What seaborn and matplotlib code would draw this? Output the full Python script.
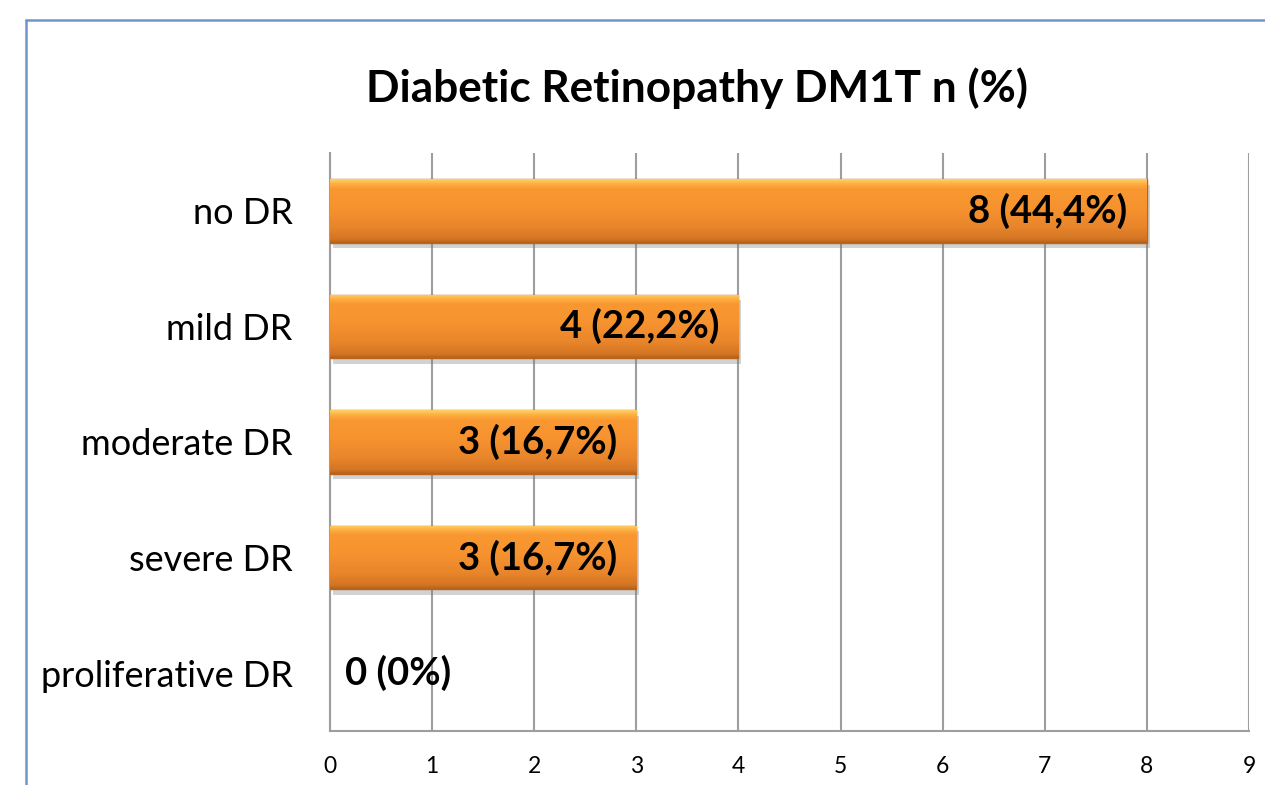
import numpy as np
import pandas as pd
import matplotlib
matplotlib.use("Agg")
import matplotlib.pyplot as plt
import matplotlib.patheffects as pe
from matplotlib.colors import LinearSegmentedColormap
from matplotlib.lines import Line2D
import seaborn as sns

categories = ["no DR", "mild DR", "moderate DR", "severe DR", "proliferative DR"]
counts = [8, 4, 3, 3, 0]
percents = ["44,4", "22,2", "16,7", "16,7", "0"]
title = "Diabetic Retinopathy DM1T n (%)"

df = pd.DataFrame({"category": categories, "n": counts})

sns.set_theme(style="white")
plt.rcParams["font.family"] = ["Lato", "DejaVu Sans"]

fig = plt.figure(figsize=(12.65, 7.85), dpi=100)
ax = fig.add_axes([0.2609, 0.0688, 0.7265, 0.7363])

sns.barplot(data=df, x="n", y="category", orient="h", color="#F7962F",
            width=0.55, edgecolor="#B8651E", linewidth=1.0, ax=ax, zorder=3)

# bevel-ish gradient inside each bar: dark bottom edge, flat body, light top edge
grad = LinearSegmentedColormap.from_list(
    "bev", [(0.0, "#B5621C"), (0.06, "#D37524"), (0.25, "#E9852B"),
            (0.55, "#F6932F"), (0.85, "#F99831"), (0.93, "#FDB043"), (1.0, "#FFD262")])
g = np.linspace(0, 1, 128).reshape(-1, 1)
for p in ax.patches:
    if p.get_width() <= 0:
        p.set_linewidth(0)
        p.set_visible(False)
        continue
    x0, y0 = p.get_x(), p.get_y()
    w, h = p.get_width(), p.get_height()
    im = ax.imshow(g, cmap=grad, aspect="auto", origin="upper",
                   extent=[x0, x0 + w, y0, y0 + h], zorder=3.5)
    im.set_clip_path(p)
    p.set_path_effects([pe.SimplePatchShadow(offset=(2, -4), shadow_rgbFace="#808080", alpha=0.35),
                        pe.Normal()])

ax.set_xlim(0, 9)
ax.set_ylim(len(categories) - 0.5, -0.5)
ax.set_xticks(range(0, 10))
ax.grid(axis="x", color="#9E9E9E", linewidth=1.5, zorder=0)
ax.grid(axis="y", visible=False)
ax.spines["top"].set_visible(False)
ax.spines["right"].set_visible(False)
ax.spines["left"].set_color("#9E9E9E")
ax.spines["left"].set_linewidth(1.5)
ax.spines["bottom"].set_color("#9E9E9E")
ax.spines["bottom"].set_linewidth(1.5)
ax.tick_params(axis="x", length=0, pad=18, labelsize=16.5, labelcolor="black")
ax.tick_params(axis="y", length=0, pad=27, labelsize=26, labelcolor="black")
ax.set_xlabel("")
ax.set_ylabel("")

for i, (n, pc) in enumerate(zip(counts, percents)):
    label = f"{n} ({pc}%)"
    if n > 0:
        ax.text(n - 0.19, i, label, ha="right", va="center", fontsize=27.5,
                fontweight="bold", color="black", zorder=5)
    else:
        ax.text(0.15, i, label, ha="left", va="center", fontsize=27.5,
                fontweight="bold", color="black", zorder=5)

fig.text(0.551, 0.888, title, ha="center", va="center", fontsize=31.8,
         fontweight="bold", color="black")

# chart area border (left and top visible)
bc = "#6E96CC"
fig.add_artist(Line2D([0.0206, 0.0206], [0.9745, -0.01], transform=fig.transFigure, color=bc, lw=1.8))
fig.add_artist(Line2D([0.0206, 1.01], [0.9745, 0.9745], transform=fig.transFigure, color=bc, lw=1.8))

fig.savefig("out.png", dpi=100, facecolor="white")
